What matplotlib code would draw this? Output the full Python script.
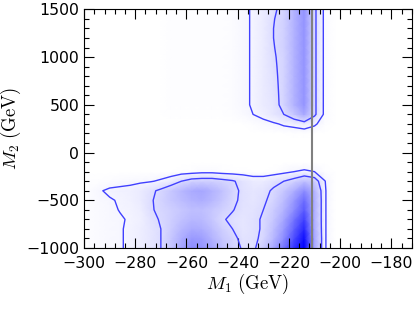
import numpy as np
import matplotlib
matplotlib.use("Agg")
import matplotlib.pyplot as plt
from matplotlib.colors import LinearSegmentedColormap
from matplotlib.ticker import MultipleLocator

plt.rcParams['mathtext.fontset'] = 'cm'

# grid of M1 (GeV) and M2 (GeV) points
m1 = [-298, -294, -290, -286, -282, -278, -274, -270, -266, -262, -258, -254, -250,
      -246, -242, -238, -234, -230, -226, -222, -218, -214, -210, -206, -202]
m2 = [-1000, -900, -800, -700, -600, -500, -400, -300, -200, -100, 0, 100, 200,
      300, 400, 500, 600, 700, 800, 900, 1000, 1100, 1200, 1300, 1400, 1500]

# posterior density (percent of max), one row per M2 value, bottom to top
density = [
    [1.5, 2, 3, 3.5, 5, 7, 10, 14, 22, 35, 45, 42, 35, 25, 18, 13, 12, 20, 35, 55, 80, 100, 35, 4.5, 0],
    [1.5, 2, 3, 3.5, 5, 7, 10, 14, 22, 32, 40, 38, 30, 22, 17, 11, 12, 16, 28, 45, 70, 95, 35, 4.5, 0],
    [1.5, 2, 3, 3.5, 5, 7, 10, 14, 20, 28, 33, 32, 26, 19, 14, 10, 12, 15, 25, 40, 62, 85, 33, 4.5, 0],
    [1.5, 2, 3, 3.5, 4.5, 6, 11, 15, 19, 24, 28, 27, 22, 15, 12, 10, 12, 15, 22, 35, 55, 75, 32, 4.5, 0],
    [1.5, 2, 3, 4.2, 5, 7, 13, 16, 19, 22, 25, 25, 22, 18, 14.5, 11, 11, 14, 20, 30, 45, 65, 32, 4.5, 0],
    [1.5, 2.5, 3.5, 4.5, 5.5, 8, 13, 17, 22, 26, 30, 32, 28, 22, 16, 12, 10, 12.5, 17, 26, 40, 58, 32, 4.5, 0],
    [1.5, 3.5, 5, 5.5, 6, 8, 12, 16, 22, 28, 33, 35, 30, 24, 17, 12, 10, 11, 15.5, 22, 32, 45, 30, 4.5, 0],
    [0.5, 1, 1.5, 2, 2.5, 3, 3.5, 5, 8, 14, 18, 19, 19, 17, 15, 11, 8, 8, 11, 14, 18, 25, 20, 4.2, 0],
    [0, 0, 0, 0, 0, 0, 0, 0, 0, 0.5, 1, 2, 2, 1, 0.5, 0.5, 0, 0, 0.5, 2, 4, 5, 4, 1, 0],
    [0, 0, 0, 0, 0, 0, 0, 0, 0, 0, 0, 0, 0, 0, 0, 0, 0, 0, 0, 0, 0, 0, 0, 0, 0],
    [0, 0, 0, 0, 0, 0, 0, 0, 0, 0, 0, 0, 0, 0, 0, 0, 0, 0, 0, 0, 0, 0, 0, 0, 0],
    [0, 0, 0, 0, 0, 0, 0, 0, 0, 0, 0, 0, 0, 0, 0, 0, 0, 0, 0, 0, 0, 0, 0, 0, 0],
    [0, 0, 0, 0, 0, 0, 0, 0, 0, 0, 0, 0, 0, 0, 0, 0, 0, 0, 0, 0, 0.5, 0.5, 0.3, 0, 0],
    [0, 0, 0, 0, 0, 0, 0, 0, 0, 0, 0, 0, 0, 0, 0, 0, 1, 2, 3, 5, 6, 8, 5, 1, 0],
    [0, 0, 0, 0, 0, 0, 0, 0, 0.5, 0.5, 0.5, 0.5, 0.5, 0.5, 1, 2, 4, 6, 10, 14, 22, 34, 16, 2, 0],
    [0, 0, 0, 0, 0, 0, 0, 0, 1, 1, 1, 1, 1, 1, 1.5, 3, 4.5, 8, 10.5, 17, 30, 42, 16, 2, 0],
    [0, 0, 0, 0, 0, 0, 0, 0, 1, 1, 1, 1, 1, 1, 1.5, 3, 4.5, 8, 11, 17, 30, 42, 16, 2, 0],
    [0, 0, 0, 0, 0, 0, 0, 0, 1, 1, 1, 1, 1, 1, 1.5, 3, 4.5, 8, 11.5, 17, 30, 42, 16, 2, 0],
    [0, 0, 0, 0, 0, 0, 0, 0, 1, 1, 1, 1, 1, 1, 1.5, 3, 4.5, 8, 12, 17, 30, 42, 16, 2, 0],
    [0, 0, 0, 0, 0, 0, 0, 0, 1, 1, 1, 1, 1, 1, 1.5, 3, 4.5, 8, 12.5, 17, 30, 42, 16, 2, 0],
    [0, 0, 0, 0, 0, 0, 0, 0, 1, 1, 1, 1, 1, 1, 1.5, 3, 4.5, 8, 13, 17, 30, 42, 16, 2, 0],
    [0, 0, 0, 0, 0, 0, 0, 0, 1, 1, 1, 1, 1, 1, 1.5, 3, 4.5, 8, 13.5, 18, 30, 42, 16, 2, 0],
    [0, 0, 0, 0, 0, 0, 0, 0, 1, 1, 1, 1, 1, 1, 1.5, 3, 4.5, 8, 14, 18, 30, 42, 16, 2, 0],
    [0, 0, 0, 0, 0, 0, 0, 0, 1, 1, 1, 1, 1, 1, 1.5, 3, 4.5, 8, 14, 18, 30, 42, 16, 2, 0],
    [0, 0, 0, 0, 0, 0, 0, 0, 1, 1, 1, 1, 1, 1, 1.5, 3, 4.5, 8, 13.5, 18, 30, 42, 16, 2, 0],
    [0, 0, 0, 0, 0, 0, 0, 0, 1, 1, 1, 1, 1, 1, 1.5, 3, 4.5, 8, 12.5, 17, 30, 42, 16, 2, 0],
]
levels = [4, 14]
m1_best = -211

cmap = LinearSegmentedColormap.from_list("wb", ["white", "blue"])

fig = plt.figure(figsize=(4.16, 3.12), dpi=100)
ax = fig.add_axes([0.202, 0.205, 0.788, 0.765])

z = np.array(density)
ax.pcolormesh(m1, m2, z, cmap=cmap, vmin=0, vmax=100, shading='gouraud')
ax.contour(m1, m2, z, levels=levels, colors=[(0.25, 0.25, 1.0)], linewidths=1.0)
ax.axvline(m1_best, color='gray', lw=1.5)

ax.set_xlim(-300, -172)
ax.set_ylim(-1000, 1500)
ax.xaxis.set_major_locator(MultipleLocator(20))
ax.xaxis.set_minor_locator(MultipleLocator(4))
ax.yaxis.set_major_locator(MultipleLocator(500))
ax.yaxis.set_minor_locator(MultipleLocator(100))
ax.tick_params(which='both', direction='in', top=True, right=True, labelsize=11.3)
ax.tick_params(which='major', length=7, width=0.8)
ax.tick_params(which='minor', length=3.5, width=0.8)
ax.tick_params(axis='x', pad=6)

ax.set_xlabel(r'$M_1\ (\mathrm{GeV})$', fontsize=13.5, labelpad=0)
ax.set_ylabel(r'$M_2\ (\mathrm{GeV})$', fontsize=13.5, labelpad=2)

fig.savefig("out.png", dpi=100)
